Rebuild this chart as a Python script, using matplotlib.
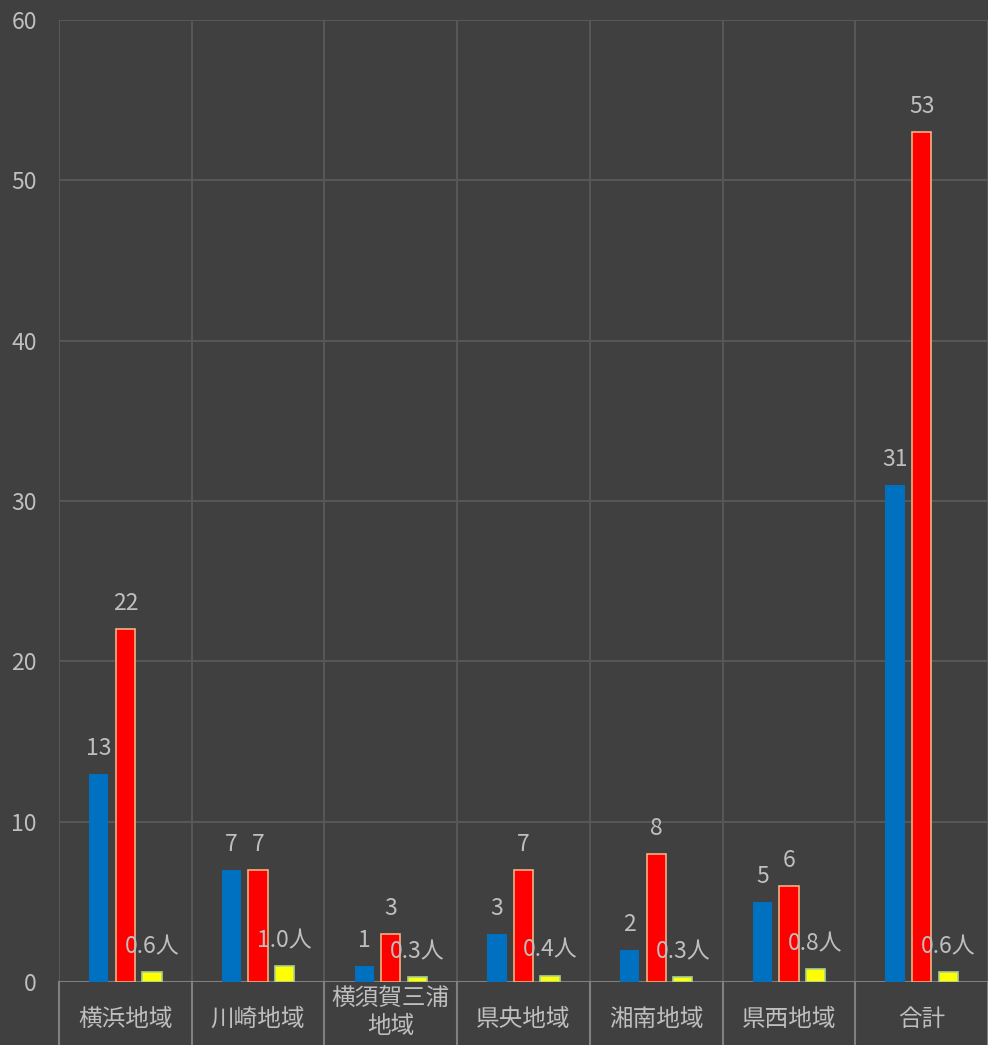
import matplotlib
matplotlib.use("Agg")
import matplotlib.pyplot as plt
import numpy as np

plt.rcParams['font.family'] = ['Noto Sans CJK JP', 'DejaVu Sans']

categories = ['横浜地域', '川崎地域', '横須賀三浦\n地域', '県央地域', '湘南地域', '県西地域', '合計']
series_blue = [13, 7, 1, 3, 2, 5, 31]
series_red = [22, 7, 3, 7, 8, 6, 53]
series_yellow = [0.6, 1.0, 0.3, 0.4, 0.3, 0.8, 0.6]
yellow_labels = ['0.6人', '1.0人', '0.3人', '0.4人', '0.3人', '0.8人', '0.6人']
yticks = [0, 10, 20, 30, 40, 50, 60]

BG = '#404040'
GRID = '#575757'
AXIS = '#808080'
TXT = '#BFBFBF'

fig = plt.figure(figsize=(9.88, 10.45), dpi=100, facecolor=BG)
ax = fig.add_axes([59/988, 1-982/1045, 1-59/988, (982-20)/1045])
ax.set_facecolor(BG)

x = np.arange(len(categories))
w = 0.145
off = 0.2
b1 = ax.bar(x - off, series_blue, w, color='#0070C0', zorder=3)
b2 = ax.bar(x, series_red, w, color='#FF0000', edgecolor='#F4B183', linewidth=1.2, zorder=3)
b3 = ax.bar(x + off, series_yellow, w, color='#FFFF00', edgecolor='#A9D18E', linewidth=1.2, zorder=3)

fs = 16.5
for bars, vals, labs in [(b1, series_blue, [str(v) for v in series_blue]),
                         (b2, series_red, [str(v) for v in series_red]),
                         (b3, series_yellow, yellow_labels)]:
    for r, v, l in zip(bars, vals, labs):
        ax.annotate(l, (r.get_x() + r.get_width()/2, v), xytext=(0, 10),
                    textcoords='offset points', ha='center', va='bottom',
                    color=TXT, fontsize=fs, zorder=4)

ax.set_xlim(-0.5, len(categories) - 0.5)
ax.set_ylim(0, 60)
ax.set_yticks(yticks)
ax.set_yticklabels([str(t) for t in yticks], color=TXT, fontsize=fs)
ax.tick_params(axis='y', length=0, pad=16)
ax.set_xticks(x)
ax.set_xticklabels([])
ax.tick_params(axis='x', length=0)

trans = ax.get_xaxis_transform()
axh = 962.0
for xi, c in zip(x, categories):
    if '\n' in c:
        ax.text(xi, -5/axh, c, transform=trans, ha='center', va='top',
                color=TXT, fontsize=17, linespacing=1.3, clip_on=False)
    else:
        ax.text(xi, -37/axh, c, transform=trans, ha='center', va='center',
                color=TXT, fontsize=17, clip_on=False)

for s in ax.spines.values():
    s.set_visible(False)

for t in yticks:
    ax.axhline(t, color=GRID, linewidth=1.5, zorder=1)
ax.axhline(0, color=AXIS, linewidth=1.5, zorder=2)

for b in np.arange(-0.5, len(categories), 1.0):
    ax.axvline(b, ymin=0, ymax=1, color=GRID, linewidth=1.5, zorder=1)
    ax.axvline(b, ymin=-0.07, ymax=0, color=AXIS, linewidth=1.5, zorder=2, clip_on=False)

fig.savefig('out.png', dpi=100, facecolor=BG)
